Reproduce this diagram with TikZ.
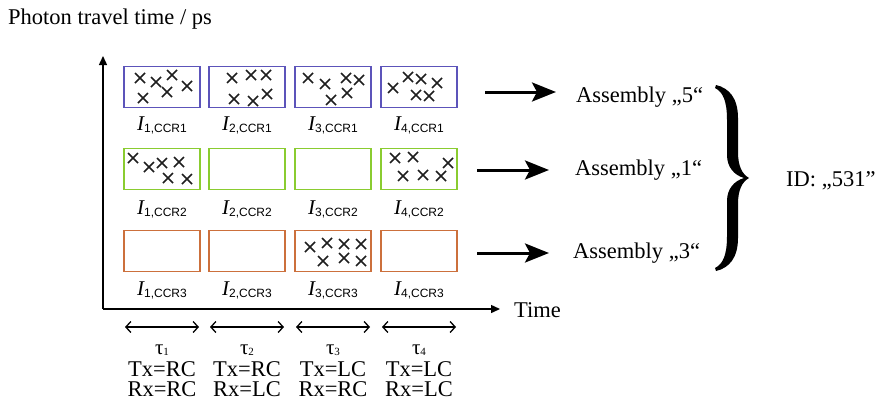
\documentclass[tikz,border=0pt]{standalone}
\usepackage{fontspec}
\setmainfont{Liberation Serif}
\setsansfont{Liberation Sans}
\usetikzlibrary{arrows.meta}

\definecolor{ccrblue}{RGB}{92,84,186}
\definecolor{ccrgreen}{RGB}{138,204,48}
\definecolor{ccrorange}{RGB}{204,112,60}
\definecolor{crossgray}{RGB}{30,30,30}

\newcommand{\intlabel}[2]{{\fontsize{21}{21}\selectfont\itshape I}\raisebox{-2.5pt}{\sffamily\fontsize{12}{12}\selectfont #1,CCR#2}}
\newcommand{\taulabel}[1]{{\fontsize{21}{21}\selectfont τ}\raisebox{-1.5pt}{\fontsize{11}{11}\selectfont #1}}

\tikzset{
  txt/.style={font=\fontsize{22.5}{22.5}\selectfont, inner sep=0pt},
  pol/.style={font=\fontsize{22.5}{20}\selectfont, inner sep=0pt, align=center, anchor=north},
  lbl/.style={inner sep=0pt, anchor=base},
  cell/.style={draw, line width=1.6pt, minimum width=76pt, minimum height=41pt, inner sep=0pt},
  axis/.style={line width=1.4pt, -{Triangle[length=9pt,width=8pt]}},
  span/.style={line width=1.3pt, {Straight Barb[length=5pt,width=11pt]}-{Straight Barb[length=5pt,width=11pt]}},
  bigarrow/.style={line width=3pt, -{Stealth[length=24pt,width=19pt,inset=5pt]}},
  cross/.style={crossgray, line width=1.6pt},
}

% a small x-mark centred on a point
\newcommand{\xmark}[1]{\draw[cross] #1 ++(-5pt,-5pt) -- ++(10pt,10pt) #1 ++(-5pt,5pt) -- ++(10pt,-10pt);}

\begin{document}
\begin{tikzpicture}[x=1pt,y=-1pt]
\useasboundingbox (0,0) rectangle (875,407);

% title
\node[txt, anchor=base west] (title) at (8,24) {Photon travel time / ps};

% axes
\coordinate (origin) at (103,309);
\coordinate (ytip) at (103,56);
\coordinate (xtip) at (500,309);
\draw[axis] (origin) -- (ytip);
\draw[axis] (origin) -- (xtip);
\node[txt, anchor=base west] (time) at (514,317) {Time};

% grid of intensity cells
\foreach \c/\x in {1/162,2/247,3/333,4/419}{
  \node[cell, ccrblue]   (b\c) at (\x,87)  {};
  \node[cell, ccrgreen]  (g\c) at (\x,169) {};
  \node[cell, ccrorange] (o\c) at (\x,251) {};
  \node[lbl] (lb\c) at (\x,130) {\intlabel{\c}{1}};
  \node[lbl] (lg\c) at (\x,214) {\intlabel{\c}{2}};
  \node[lbl] (lo\c) at (\x,295) {\intlabel{\c}{3}};
  % time slots
  \coordinate (sl\c) at (\x-37,327);
  \coordinate (sr\c) at (\x+37,327);
  \draw[span] (sl\c) -- (sr\c);
  \node[lbl] (tau\c) at (\x,354) {\taulabel{\c}};
}
% transmitter / receiver polarisation per slot
\node[pol] (pol1) at (162,361) {Tx=RC\\Rx=RC};
\node[pol] (pol2) at (247,361) {Tx=RC\\Rx=LC};
\node[pol] (pol3) at (333,361) {Tx=LC\\Rx=RC};
\node[pol] (pol4) at (419,361) {Tx=LC\\Rx=LC};

% detected photons
\foreach \p in {(140,78),(156,82),(172,75),(187,86),(143,98),(167,92),
                (232,78),(251,75),(266,75),(234,99),(253,101),(267,94),
                (308,78),(325,84),(346,78),(359,80),(331,100),(347,93),
                (393,88),(408,77),(421,79),(437,83),(416,95),(429,96),
                (133,158),(149,167),(162,163),(179,162),(168,178),(187,179),
                (395,158),(413,157),(448,163),(403,176),(423,175),(441,176),
                (310,247),(327,243),(344,244),(361,244),(323,261),(344,258),(361,261)}{
  \xmark{\p}
}

% assemblies
\coordinate (a1s) at (485,92);  \coordinate (a1e) at (556,92);
\coordinate (a2s) at (477,170); \coordinate (a2e) at (549,170);
\coordinate (a3s) at (477,253); \coordinate (a3e) at (549,253);
\draw[bigarrow] (a1s) -- (a1e);
\draw[bigarrow] (a2s) -- (a2e);
\draw[bigarrow] (a3s) -- (a3e);
\node[txt, anchor=base west] (as5) at (576,102) {Assembly „5“};
\node[txt, anchor=base west] (as1) at (575,175) {Assembly „1“};
\node[txt, anchor=base west] (as3) at (573,258) {Assembly „3“};

% curly brace gathering the three assemblies (filled, tapered strokes)
\fill[black]
  (716,85) .. controls (729,88) and (738,98) .. (738,118) -- (738,152)
           .. controls (738,166) and (742,174) .. (749,178)
           .. controls (742,182) and (738,190) .. (738,204) -- (738,238)
           .. controls (738,258) and (729,268) .. (716,271)
  -- (715,268) .. controls (723,264) and (727,255) .. (727,236) -- (727,201)
           .. controls (727,189) and (734,181) .. (744,178)
           .. controls (734,175) and (727,167) .. (727,155) -- (727,120)
           .. controls (727,101) and (723,92) .. (715,88) -- cycle;
\node[txt, anchor=base west] (id) at (786,186) {ID: „531"};
\end{tikzpicture}
\end{document}
